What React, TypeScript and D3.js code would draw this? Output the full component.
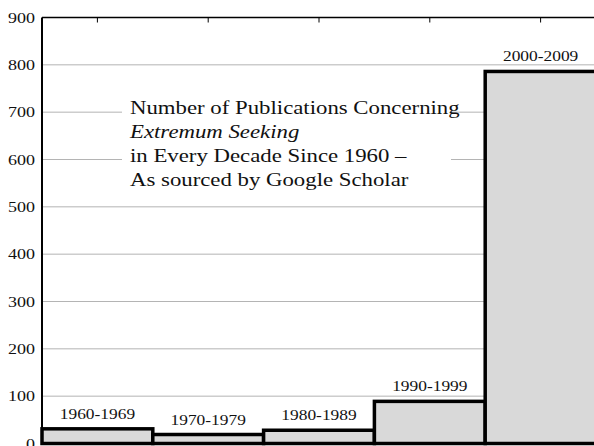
import React from "react";
import * as d3 from "d3";

const decades = ["1960-1969", "1970-1979", "1980-1989", "1990-1999", "2000-2009"];
const publications = [31, 19, 28, 89, 786];
const yTicks = [0, 100, 200, 300, 400, 500, 600, 700, 800, 900];
const titleLines = [
  "Number of Publications Concerning",
  "Extremum Seeking",
  "in Every Decade Since 1960 \u2013",
  "As sourced by Google Scholar",
];
const titleItalic = [false, true, false, false];

const W = 594;
const H = 446;
const FONT = "Liberation Serif";
const SX = 1.2;

export default function App() {
  const left = 42, right = 596, top = 17.5, bottom = 443.5;
  const x = d3.scaleBand<string>().domain(decades).range([left, right]).padding(0);
  const y = d3.scaleLinear().domain([0, 900]).range([bottom, top]);
  const cx = (d: string) => (x(d) as number) + x.bandwidth() / 2;

  return (
    <svg width={W} height={H} style={{ position: "absolute", left: 0, top: 0, display: "block" }}>
      <rect width={W} height={H} fill="#fff" />
      <g>
        {yTicks.filter((t) => t > 0 && t < 900).map((t) => (
          <line key={t} x1={left} x2={right} y1={y(t)} y2={y(t)} stroke="#b4b4b4" strokeWidth={1} />
        ))}
      </g>
      <rect x={122} y={95} width={329} height={100} fill="#fff" />
      <g>
        {titleLines.map((t, i) => (
          <text key={i} transform={`translate(130,${114 + i * 24}) scale(${SX},1)`}
            fontFamily={FONT} fontSize={19} fontStyle={titleItalic[i] ? "italic" : "normal"} fill="#111">{t}</text>
        ))}
      </g>
      <line x1={left} x2={right} y1={top} y2={top} stroke="#000" strokeWidth={1.5} />
      <g>
        {decades.map((d) => (
          <line key={d} x1={cx(d)} x2={cx(d)} y1={top} y2={top + 5} stroke="#000" strokeWidth={1} />
        ))}
      </g>
      <g>
        {decades.map((d, i) => (
          <rect key={d} x={x(d)} width={x.bandwidth()} y={y(publications[i])} height={y(0) - y(publications[i])}
            fill="#d9d9d9" stroke="#000" strokeWidth={3.5} />
        ))}
      </g>
      <g>
        {decades.map((d, i) => (
          <text key={d} transform={`translate(${cx(d)},${y(publications[i]) - 10}) scale(${SX},1)`}
            textAnchor="middle" fontFamily={FONT} fontSize={14.5} fill="#111">{d}</text>
        ))}
      </g>
      <line x1={left} x2={left} y1={top} y2={bottom} stroke="#000" strokeWidth={2} />
      <g>
        {yTicks.map((t) => (
          <text key={t} transform={`translate(35,${y(t) + 5}) scale(${SX},1)`}
            textAnchor="end" fontFamily={FONT} fontSize={15} fill="#111">{t}</text>
        ))}
      </g>
    </svg>
  );
}
